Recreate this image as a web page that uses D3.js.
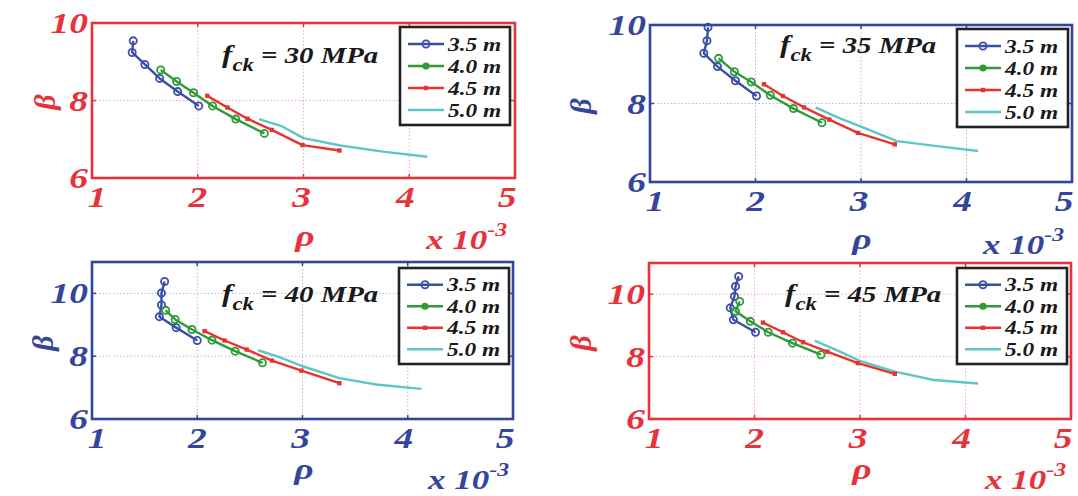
<!DOCTYPE html>
<html><head><meta charset="utf-8">
<script src="https://cdn.jsdelivr.net/npm/d3@7"></script>
<style>body{margin:0;background:#fff} svg{display:block}</style>
</head><body>
<svg id="chart" width="1078" height="496"></svg>
<script>
// ---------- data ----------
const seriesNames = ["3.5 m", "4.0 m", "4.5 m", "5.0 m"];
const fckValues = ["30", "35", "40", "45"];
const xTicks = [1, 2, 3, 4, 5];
const yTicks = [6, 8, 10];

// fck = 30 MPa  ([rho x1e3, beta])
const fc30_s35 = [[1.39,9.54],[1.38,9.24],[1.50,8.93],[1.64,8.57],[1.81,8.23],[2.01,7.86]];
const fc30_s40 = [[1.65,8.79],[1.80,8.49],[1.96,8.20],[2.14,7.86],[2.36,7.52],[2.63,7.15]];
const fc30_s45 = [[2.09,8.12],[2.28,7.82],[2.47,7.53],[2.70,7.24],[2.99,6.85],[3.34,6.71]];
const fc30_s50 = [[2.58,7.52],[2.80,7.33],[3.00,7.03],[3.35,6.84],[3.75,6.68],[4.17,6.55]];
// fck = 35 MPa
const fc35_s35 = [[1.55,9.94],[1.54,9.60],[1.51,9.28],[1.64,8.94],[1.81,8.58],[2.01,8.19]];
const fc35_s40 = [[1.65,9.15],[1.80,8.81],[1.96,8.55],[2.14,8.21],[2.36,7.87],[2.63,7.51]];
const fc35_s45 = [[2.08,8.49],[2.26,8.19],[2.46,7.90],[2.70,7.59],[2.97,7.25],[3.32,6.96]];
const fc35_s50 = [[2.57,7.90],[2.80,7.62],[3.00,7.41],[3.34,7.04],[3.70,6.92],[4.11,6.79]];
// fck = 40 MPa
const fc40_s35 = [[1.69,10.38],[1.66,10.01],[1.66,9.63],[1.64,9.26],[1.80,8.91],[2.00,8.50]];
const fc40_s40 = [[1.70,9.46],[1.79,9.17],[1.95,8.85],[2.14,8.51],[2.36,8.16],[2.62,7.79]];
const fc40_s45 = [[2.07,8.80],[2.26,8.50],[2.47,8.21],[2.71,7.86],[2.99,7.54],[3.35,7.14]];
const fc40_s50 = [[2.58,8.19],[2.80,7.95],[3.00,7.68],[3.35,7.30],[3.70,7.10],[4.13,6.96]];
// fck = 45 MPa
const fc45_s35 = [[1.85,10.57],[1.82,10.25],[1.81,9.93],[1.77,9.56],[1.80,9.18],[2.01,8.78]];
const fc45_s40 = [[1.86,9.77],[1.82,9.45],[1.96,9.13],[2.13,8.78],[2.36,8.43],[2.63,8.06]];
const fc45_s45 = [[2.08,9.09],[2.27,8.78],[2.46,8.46],[2.69,8.16],[2.98,7.79],[3.33,7.45]];
const fc45_s50 = [[2.57,8.51],[2.81,8.16],[3.00,7.86],[3.33,7.52],[3.70,7.25],[4.12,7.14]];

// ---------- styles / layout ----------
const RED = "#e6323a", BLUE = "#34459c";
const seriesColors = ["#3b4ea8", "#2f9a38", "#e8342e", "#5ec6c6"];
const seriesMarkers = ["circle", "ring", "square", "none"];
const FONT = "'Liberation Serif','Times New Roman',serif";
const SX = 1.25;
const xLabelShift = [5, 0, -2, -4, -8];

const panels = [
  {fck: fckValues[0], color: RED,  box: [92, 23, 515, 178], yDom: [6, 10], data: [fc30_s35, fc30_s40, fc30_s45, fc30_s50],
   leg: [400, 27, 110, 98], fx: [222, 63], rho: [305, 246], xl: [426, 249], beta: [44, 102]},
  {fck: fckValues[1], color: BLUE, box: [650, 25, 1072, 182], yDom: [6, 10], data: [fc35_s35, fc35_s40, fc35_s45, fc35_s50],
   leg: [957, 29, 111, 98], fx: [780, 53], rho: [862, 249], xl: [983, 254], beta: [580, 106]},
  {fck: fckValues[2], color: BLUE, box: [92, 262, 513, 419], yDom: [6, 11], data: [fc40_s35, fc40_s40, fc40_s45, fc40_s50],
   leg: [399, 268, 110, 96], fx: [222, 302], rho: [304, 479], xl: [428, 489], beta: [42, 343]},
  {fck: fckValues[3], color: RED,  box: [649, 263, 1071, 419], yDom: [6, 11], data: [fc45_s35, fc45_s40, fc45_s45, fc45_s50],
   leg: [957, 268, 110, 96], fx: [785, 302], rho: [862, 479], xl: [985, 489], beta: [580, 343]}
];

const svg = d3.select("#chart");

function stext(g, x, y, str, size, color, anchor, sx) {
  return g.append("text")
    .attr("transform", `translate(${x},${y}) scale(${sx === undefined ? SX : sx},1)`)
    .attr("text-anchor", anchor || "start")
    .attr("font-family", FONT).attr("font-weight", "bold").attr("font-style", "italic")
    .attr("font-size", size).attr("fill", color).text(str);
}

function drawMarker(g, type, x, y, color) {
  if (type === "circle" || type === "ring") {
    g.append("circle").attr("cx", x).attr("cy", y).attr("r", 3.6)
      .attr("fill", "none").attr("stroke", color).attr("stroke-width", 1.8);
  } else if (type === "legendfill") {
    g.append("circle").attr("cx", x).attr("cy", y).attr("r", 3.6).attr("fill", color);
  } else if (type === "square") {
    g.append("rect").attr("x", x - 2.2).attr("y", y - 2.2).attr("width", 4.4).attr("height", 4.4).attr("fill", color);
  }
}

panels.forEach(p => {
  const [L, T, R, B] = p.box;
  const g = svg.append("g");
  const x = d3.scaleLinear().domain([1, 5]).range([L, R]);
  const y = d3.scaleLinear().domain(p.yDom).range([B, T]);
  const gridCol = p.color === RED ? "#eeb0b4" : "#b3b9dc";
  const innerY = yTicks.filter(t => t > p.yDom[0] && t < p.yDom[1]);

  // grid
  xTicks.slice(1, -1).forEach(t => g.append("line").attr("x1", x(t)).attr("x2", x(t)).attr("y1", T).attr("y2", B)
    .attr("stroke", gridCol).attr("stroke-width", 1).attr("stroke-dasharray", "1.5,2"));
  innerY.forEach(t => g.append("line").attr("x1", L).attr("x2", R).attr("y1", y(t)).attr("y2", y(t))
    .attr("stroke", gridCol).attr("stroke-width", 1).attr("stroke-dasharray", "1.5,2"));

  // inner ticks
  xTicks.slice(1, -1).forEach(t => {
    g.append("line").attr("x1", x(t)).attr("x2", x(t)).attr("y1", B).attr("y2", B - 4).attr("stroke", p.color).attr("stroke-width", 1.5);
    g.append("line").attr("x1", x(t)).attr("x2", x(t)).attr("y1", T).attr("y2", T + 4).attr("stroke", p.color).attr("stroke-width", 1.5);
  });
  innerY.forEach(t => {
    g.append("line").attr("x1", L).attr("x2", L + 4).attr("y1", y(t)).attr("y2", y(t)).attr("stroke", p.color).attr("stroke-width", 1.5);
    g.append("line").attr("x1", R).attr("x2", R - 4).attr("y1", y(t)).attr("y2", y(t)).attr("stroke", p.color).attr("stroke-width", 1.5);
  });

  // series
  const line = d3.line().x(d => x(d[0])).y(d => y(d[1]));
  p.data.forEach((s, i) => {
    g.append("path").datum(s).attr("d", line).attr("fill", "none")
      .attr("stroke", seriesColors[i]).attr("stroke-width", 2.4).attr("stroke-linejoin", "round");
  });
  p.data.forEach((s, i) => {
    if (seriesMarkers[i] !== "none") s.forEach(d => drawMarker(g, seriesMarkers[i], x(d[0]), y(d[1]), seriesColors[i]));
  });

  // frame
  g.append("rect").attr("x", L).attr("y", T).attr("width", R - L).attr("height", B - T)
    .attr("fill", "none").attr("stroke", p.color).attr("stroke-width", 2.6);

  // tick labels
  xTicks.forEach((t, i) => stext(g, x(t) + xLabelShift[i], B + 29, String(t), 30, p.color, "middle"));
  yTicks.forEach(t => stext(g, L - 4, y(t) + 10, String(t), 30, p.color, "end"));

  // axis labels
  stext(g, p.rho[0], p.rho[1], "\u03C1", 30, p.color, "middle");
  g.append("text")
    .attr("transform", `translate(${p.beta[0]},${p.beta[1]}) rotate(-90)`)
    .attr("text-anchor", "middle").attr("dy", "0.35em")
    .attr("font-family", FONT).attr("font-weight", "bold").attr("font-style", "italic")
    .attr("font-size", 30).attr("fill", p.color).text("\u03B2");
  const xl = stext(g, p.xl[0], p.xl[1], "", 28, p.color, "start");
  xl.append("tspan").text("x 10");
  xl.append("tspan").attr("dy", -13).attr("font-size", 19).text("-3");

  // fck annotation
  const ft = stext(g, p.fx[0], p.fx[1], "", 26, "#1a1a1a", "start", 1.2);
  ft.append("tspan").text("f");
  ft.append("tspan").attr("dy", 8).attr("font-size", 19).text("ck");
  ft.append("tspan").attr("dy", -8).attr("font-size", 24).text(" = " + p.fck + " MPa");

  // legend
  const [lx, ly, lw, lh] = p.leg;
  const lg = g.append("g");
  lg.append("rect").attr("x", lx).attr("y", ly).attr("width", lw).attr("height", lh)
    .attr("fill", "#fff").attr("stroke", "#222").attr("stroke-width", 2.6);
  const step = (lh - 10) / 4;
  seriesNames.forEach((name, i) => {
    const yy = ly + 5 + step * (i + 0.5) + 1;
    lg.append("line").attr("x1", lx + 8).attr("x2", lx + 44).attr("y1", yy).attr("y2", yy)
      .attr("stroke", seriesColors[i]).attr("stroke-width", 2.4);
    const mk = i === 1 ? "legendfill" : seriesMarkers[i];
    if (mk !== "none") drawMarker(lg, mk, lx + 26, yy, seriesColors[i]);
    stext(lg, lx + 48, yy + 6.5, name, 18, "#1a1a1a", "start", 1.3);
  });
});
</script>
</body></html>
